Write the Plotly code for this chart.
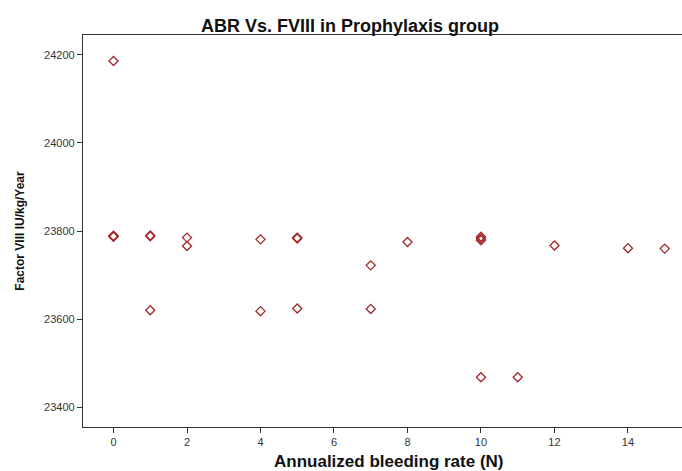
import plotly.graph_objects as go

abr = [0, 0, 0, 0, 1, 1, 1, 2, 2, 4, 4, 5, 5, 5, 7, 7, 8, 10, 10, 10, 10, 11, 12, 14, 15]
fviii = [24186, 23789, 23788, 23787, 23790, 23788, 23620, 23785, 23766, 23781, 23618,
         23785, 23783, 23624, 23722, 23623, 23775, 23787, 23783, 23779, 23468, 23468,
         23767, 23761, 23760]

x_ticks = [0, 2, 4, 6, 8, 10, 12, 14]
y_ticks = [23400, 23600, 23800, 24000, 24200]

color = "#a3282b"
font_family = "Liberation Sans, Arial, sans-serif"

fig = go.Figure()
fig.add_trace(go.Scatter(
    x=abr, y=fviii, mode="markers",
    marker=dict(symbol="diamond-open", size=7, color=color, line=dict(width=1.3, color=color)),
    showlegend=False, hoverinfo="x+y",
))

fig.update_layout(
    width=682, height=471,
    margin=dict(l=83, r=0, t=35, b=44, autoexpand=False),
    paper_bgcolor="white", plot_bgcolor="white",
    font=dict(family=font_family, color="#222222"),
    title=dict(text="<b>ABR Vs. FVIII in Prophylaxis group</b>", xref="container", x=350/682,
               xanchor="center", y=1 - 26/471, yanchor="middle",
               font=dict(size=18, color="#111111", family=font_family)),
    annotations=[dict(
        text="<b>Annualized bleeding rate (N)</b>", xref="paper", yref="paper",
        x=(389 - 83) / 599, y=-(462 - 427) / 392, xanchor="center", yanchor="middle",
        showarrow=False, font=dict(size=17, color="#111111", family=font_family),
    )],
)

fig.update_xaxes(
    range=[-0.83, 15.47], tickvals=x_ticks, ticktext=[str(v) for v in x_ticks],
    showgrid=False, zeroline=False, showline=True, linecolor="#333333", linewidth=1.3,
    mirror=True, ticks="outside", ticklen=5, tickwidth=1.3, tickcolor="#333333",
    tickfont=dict(size=11, color="#333333"), automargin=False,
)
fig.update_yaxes(
    range=[23355, 24245], tickvals=y_ticks, ticktext=[str(v) for v in y_ticks],
    showgrid=False, zeroline=False, showline=True, linecolor="#333333", linewidth=1.3,
    mirror=False, ticks="outside", ticklen=5, tickwidth=1.3, tickcolor="#333333",
    tickfont=dict(size=11, color="#333333"), automargin=False,
    title=dict(text="<b>Factor VIII IU/kg/Year</b>", font=dict(size=12, color="#111111"), standoff=16),
)

fig.write_html("out.html", config={"displayModeBar": False},
               post_script="document.body.style.margin='0';")
